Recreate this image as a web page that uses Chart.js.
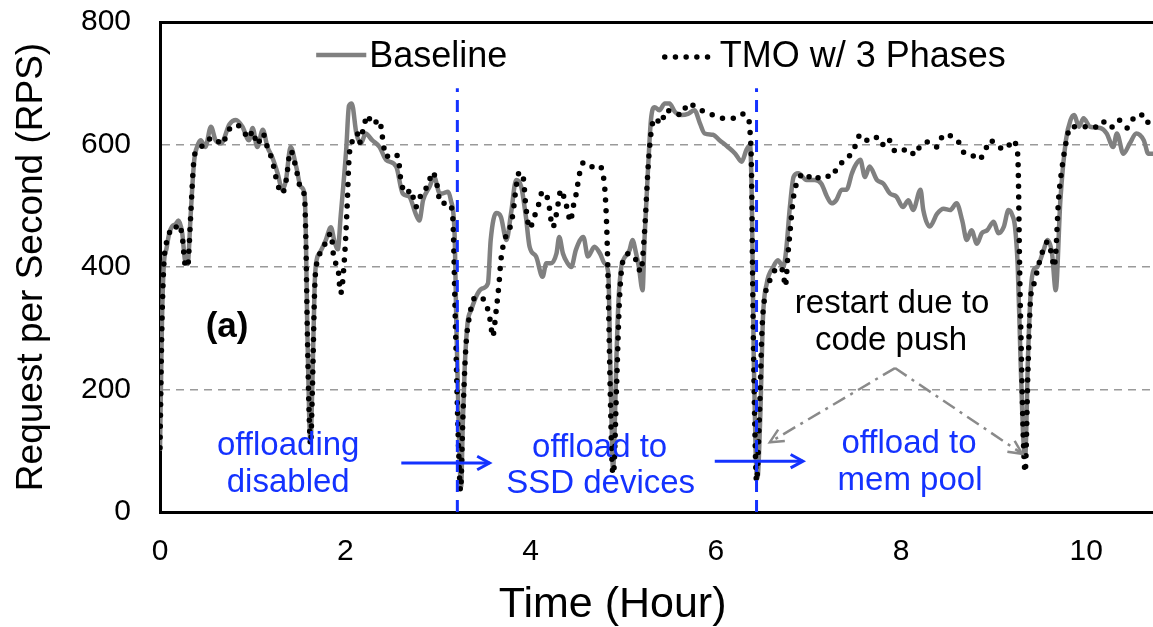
<!DOCTYPE html>
<html>
<head>
<meta charset="utf-8">
<script src="https://cdn.jsdelivr.net/npm/chart.js@4.4.1/dist/chart.umd.min.js"></script>
<style>
  html, body { margin: 0; padding: 0; background: #fff; }
  #wrap { width: 1153px; height: 627px; }
</style>
</head>
<body>
<div id="wrap"><canvas id="c" width="1153" height="627"></canvas></div>
<script>
// ---------------- DATA ----------------
const xTickLabels = [0, 2, 4, 6, 8, 10];
const yTickLabels = [0, 200, 400, 600, 800];
const seriesNames = ['Baseline', 'TMO w/ 3 Phases'];

const baselineHours = [
  0.00,0.02,0.04,0.07,0.10,0.13,0.17,0.20,0.24,0.27,0.30,0.31,0.33,0.37,0.40,0.44,0.49,0.55,0.60,0.66,
  0.75,0.82,0.89,0.96,1.00,1.05,1.11,1.16,1.21,1.27,1.32,1.36,1.41,1.47,1.52,1.56,1.575,1.59,1.61,1.625,
  1.645,1.67,1.70,1.72,1.79,1.845,1.88,1.92,1.95,2.01,2.04,2.07,2.12,2.17,2.22,2.29,2.37,2.44,2.55,2.62,
  2.69,2.76,2.80,2.84,2.91,2.96,3.02,3.05,3.11,3.14,3.18,3.20,3.23,3.25,3.27,3.29,3.32,3.36,3.43,3.48,
  3.54,3.57,3.63,3.68,3.74,3.79,3.845,3.90,3.95,3.99,4.06,4.13,4.17,4.22,4.28,4.31,4.35,4.40,4.44,4.49,
  4.57,4.62,4.69,4.75,4.80,4.84,4.86,4.88,4.89,4.93,4.95,4.98,5.00,5.07,5.10,5.14,5.17,5.21,5.23,5.27,
  5.30,5.34,5.39,5.45,5.50,5.56,5.63,5.70,5.77,5.83,5.88,5.97,6.04,6.13,6.21,6.28,6.33,6.37,6.39,6.41,
  6.43,6.45,6.48,6.51,6.55,6.62,6.67,6.73,6.76,6.80,6.84,6.89,6.98,7.07,7.14,7.20,7.25,7.30,7.36,7.41,
  7.47,7.50,7.56,7.61,7.66,7.74,7.81,7.88,7.95,8.02,8.08,8.13,8.21,8.24,8.31,8.39,8.46,8.53,8.60,8.66,
  8.71,8.76,8.82,8.87,8.93,9.00,9.05,9.11,9.16,9.20,9.23,9.26,9.29,9.32,9.34,9.37,9.40,9.43,9.47,9.54,
  9.58,9.63,9.67,9.72,9.78,9.83,9.87,9.92,9.97,10.04,10.15,10.22,10.29,10.33,10.40,10.47,10.54,10.62,10.67,10.72
];
const baselineRPS = [
  100,300,400,430,455,466,470,476,455,411,405,422,482,575,596,607,596,629,607,602,
  633,640,629,607,627,596,624,596,580,553,526,542,596,564,531,520,450,300,160,115,
  210,373,417,422,444,465,444,429,482,591,663,667,618,602,618,607,596,575,564,520,
  515,487,476,509,531,547,520,520,523,509,455,300,110,40,150,237,308,330,357,365,
  373,444,488,482,444,488,542,531,482,433,417,384,406,406,422,449,422,406,400,428,
  449,417,433,422,406,390,250,110,69,264,346,400,411,428,444,422,400,362,444,564,
  640,661,656,667,667,653,648,650,656,634,618,616,607,596,585,572,591,599,500,250,
  100,55,155,319,373,400,411,400,428,498,547,553,542,542,536,515,504,509,526,526,
  553,564,575,547,564,542,536,520,515,498,509,493,526,493,466,487,495,493,504,476,
  444,460,438,455,460,474,455,466,493,485,466,400,250,120,90,250,360,395,400,428,
  444,422,362,509,607,640,648,629,643,629,627,618,596,618,585,602,618,607,585,585
];

const tmoHours = [
  0.00,0.02,0.04,0.07,0.10,0.13,0.17,0.20,0.24,0.27,0.30,0.31,0.33,0.37,0.40,0.44,0.49,0.55,0.60,0.66,
  0.75,0.82,0.89,0.96,1.00,1.05,1.11,1.16,1.21,1.27,1.32,1.36,1.41,1.47,1.52,1.56,1.575,1.59,1.61,1.625,
  1.645,1.67,1.70,1.72,1.79,1.845,1.88,1.92,1.95,1.99,2.02,2.04,2.08,2.13,2.15,2.20,2.24,2.29,2.37,2.40,
  2.44,2.51,2.57,2.60,2.66,2.71,2.76,2.84,2.89,2.94,2.98,3.03,3.12,3.16,3.19,3.22,3.245,3.27,3.30,3.34,
  3.41,3.48,3.54,3.57,3.59,3.63,3.66,3.68,3.72,3.77,3.81,3.845,3.88,3.92,3.95,3.99,4.04,4.08,4.13,4.19,
  4.24,4.28,4.33,4.37,4.40,4.43,4.46,4.49,4.53,4.57,4.64,4.73,4.78,4.81,4.83,4.86,4.88,4.895,4.93,4.96,
  5.00,5.07,5.14,5.19,5.23,5.27,5.30,5.34,5.41,5.46,5.54,5.63,5.70,5.79,5.88,5.97,6.08,6.19,6.28,6.35,
  6.37,6.385,6.40,6.42,6.44,6.47,6.50,6.54,6.57,6.64,6.69,6.73,6.75,6.78,6.80,6.84,6.89,6.96,7.05,7.16,
  7.25,7.32,7.41,7.50,7.56,7.63,7.72,7.79,7.86,7.91,7.97,8.08,8.15,8.21,8.30,8.39,8.46,8.55,8.62,8.69,
  8.76,8.84,8.91,8.96,9.05,9.14,9.20,9.25,9.265,9.28,9.30,9.32,9.34,9.37,9.40,9.43,9.48,9.52,9.58,9.63,
  9.65,9.67,9.70,9.74,9.78,9.83,9.90,9.99,10.08,10.17,10.26,10.35,10.44,10.54,10.63,10.69,10.72
];
const tmoRPS = [
  105,300,400,440,455,466,465,470,450,405,400,420,480,580,590,596,600,610,610,600,
  625,632,625,610,622,600,618,595,575,535,520,540,590,560,528,515,440,300,160,110,
  200,365,412,420,440,455,411,400,357,411,498,575,607,618,602,629,648,633,640,613,
  580,585,580,542,520,526,498,526,531,555,542,504,504,482,300,120,35,155,264,319,
  351,349,330,308,286,330,373,411,444,460,487,531,555,547,498,463,482,498,523,509,
  465,487,526,509,493,474,498,517,553,570,563,566,553,509,427,200,80,62,210,346,
  411,422,411,392,455,564,618,643,634,656,653,648,667,661,653,648,643,643,650,643,
  621,560,350,150,50,150,300,360,373,395,400,389,368,422,455,515,542,553,542,550,
  547,566,575,596,616,607,613,599,610,593,588,593,583,599,604,596,616,613,604,585,
  583,575,591,607,596,593,607,593,560,400,250,120,65,230,351,370,400,422,441,417,
  400,422,509,564,602,629,629,629,627,638,627,640,627,648,648,629,634
];

const phaseChangeHours = [3.21, 6.44];
const phaseLineTopRPS = 692;

// ---------------- STYLE ----------------
const FONT = "'Liberation Sans', Arial, Helvetica, sans-serif";
const BLUE = '#1432ff';
const GREY_LINE = '#808080';

const toXY = (xs, ys) => xs.map((x, i) => ({ x: x, y: ys[i] }));

const datasets = [
  {
    label: seriesNames[0], data: toXY(baselineHours, baselineRPS),
    borderColor: GREY_LINE, borderWidth: 4.5, pointRadius: 0,
    cubicInterpolationMode: 'monotone', order: 3
  },
  {
    label: seriesNames[1], data: toXY(tmoHours, tmoRPS),
    borderColor: '#000', borderWidth: 5.5, borderDash: [0, 10.8], borderCapStyle: 'round',
    pointRadius: 0, cubicInterpolationMode: 'monotone', order: 2
  }
];
phaseChangeHours.forEach((h, i) => {
  datasets.push({
    label: 'phase' + (i + 1), data: [{ x: h, y: 0 }, { x: h, y: phaseLineTopRPS }],
    borderColor: BLUE, borderWidth: 3, borderDash: [12, 8], pointRadius: 0, order: 1
  });
});

// ---------------- ANNOTATIONS (positions in data units) ----------------
const notes = [
  { t: 'offloading', x: 1.384, y: 93, c: BLUE },
  { t: 'disabled', x: 1.384, y: 33, c: BLUE },
  { t: 'offload to', x: 4.746, y: 90, c: BLUE },
  { t: 'SSD devices', x: 4.757, y: 31, c: BLUE },
  { t: 'offload to', x: 8.086, y: 96, c: BLUE },
  { t: 'mem pool', x: 8.097, y: 36, c: BLUE },
  { t: 'restart due to', x: 7.903, y: 325, c: '#000' },
  { t: 'code push', x: 7.892, y: 264, c: '#000' }
];

function arrowHead(ctx, x1, y1, x2, y2, len, spread) {
  const a = Math.atan2(y2 - y1, x2 - x1);
  ctx.beginPath();
  ctx.moveTo(x2 - len * Math.cos(a - spread), y2 - len * Math.sin(a - spread));
  ctx.lineTo(x2, y2);
  ctx.lineTo(x2 - len * Math.cos(a + spread), y2 - len * Math.sin(a + spread));
  ctx.stroke();
}

const annotPlugin = {
  id: 'annot',
  afterDatasetsDraw(chart) {
    const ctx = chart.ctx;
    const xs = chart.scales.x, ys = chart.scales.y;
    const X = v => xs.getPixelForValue(v), Y = v => ys.getPixelForValue(v);
    ctx.save();

    // blue arrows
    ctx.strokeStyle = BLUE; ctx.lineWidth = 3; ctx.setLineDash([]); ctx.lineCap = 'butt';
    [[2.605, 3.557, 80], [5.989, 6.941, 83]].forEach(a => {
      ctx.beginPath(); ctx.moveTo(X(a[0]), Y(a[2])); ctx.lineTo(X(a[1]), Y(a[2])); ctx.stroke();
      arrowHead(ctx, X(a[0]), Y(a[2]), X(a[1]), Y(a[2]), 14, 0.5);
    });

    // grey dash-dot arrows
    ctx.strokeStyle = '#8a8a8a'; ctx.lineWidth = 2.5;
    const apex = [7.935, 235];
    [[6.584, 114], [9.308, 95]].forEach(e => {
      ctx.setLineDash([14, 6, 3, 6]);
      ctx.beginPath(); ctx.moveTo(X(apex[0]), Y(apex[1])); ctx.lineTo(X(e[0]), Y(e[1])); ctx.stroke();
      ctx.setLineDash([]);
      arrowHead(ctx, X(apex[0]), Y(apex[1]), X(e[0]), Y(e[1]), 15, 0.45);
    });

    // texts
    ctx.setLineDash([]);
    ctx.textAlign = 'center'; ctx.textBaseline = 'alphabetic';
    ctx.font = '33px ' + FONT;
    notes.forEach(n => { ctx.fillStyle = n.c; ctx.fillText(n.t, X(n.x), Y(n.y)); });

    ctx.fillStyle = '#000';
    ctx.font = 'bold 35px ' + FONT;
    ctx.fillText('(a)', X(0.724), Y(286));

    // legend
    ctx.font = '36px ' + FONT; ctx.textAlign = 'left';
    ctx.strokeStyle = GREY_LINE; ctx.lineWidth = 4.5; ctx.lineCap = 'butt';
    ctx.beginPath(); ctx.moveTo(X(1.686), Y(746)); ctx.lineTo(X(2.227), Y(746)); ctx.stroke();
    ctx.fillText(seriesNames[0], X(2.259), Y(727));
    ctx.strokeStyle = '#000'; ctx.lineWidth = 5.5; ctx.lineCap = 'round'; ctx.setLineDash([0, 10.7]);
    ctx.beginPath(); ctx.moveTo(X(5.449), Y(743)); ctx.lineTo(X(5.914), Y(743)); ctx.stroke();
    ctx.setLineDash([]);
    ctx.fillText(seriesNames[1], X(6.043), Y(727));

    // x-axis title
    ctx.textAlign = 'center';
    ctx.font = '43px ' + FONT;
    ctx.fillText('Time (Hour)', X(4.886), chart.chartArea.bottom + 105);
    ctx.restore();
  }
};

Chart.defaults.font.family = FONT;
Chart.defaults.color = '#000';

new Chart(document.getElementById('c').getContext('2d'), {
  type: 'line',
  data: { datasets: datasets },
  options: {
    responsive: false,
    animation: false,
    layout: { padding: 0 },
    plugins: { legend: { display: false }, tooltip: { enabled: false } },
    scales: {
      x: {
        type: 'linear', min: 0, max: 10.72,
        afterFit(s) { s.height = 115; s.paddingLeft = 0; s.paddingRight = 0; },
        afterBuildTicks(s) { s.ticks = xTickLabels.map(v => ({ value: v })); },
        ticks: { stepSize: 2, includeBounds: false, font: { size: 30 }, color: '#000', padding: 22 },
        grid: { display: false, drawTicks: false },
        border: { display: true, color: '#000', width: 3 }
      },
      xTop: {
        type: 'linear', position: 'top', min: 0, max: 10.72,
        afterFit(s) { s.height = 22; s.paddingLeft = 0; s.paddingRight = 0; },
        ticks: { display: false },
        grid: { display: false, drawTicks: false },
        border: { display: true, color: '#000', width: 3 }
      },
      y: {
        min: 0, max: 800,
        afterFit(s) { s.width = 160; s.paddingTop = 0; s.paddingBottom = 0; },
        afterBuildTicks(s) { s.ticks = yTickLabels.map(v => ({ value: v })); },
        ticks: { stepSize: 200, font: { size: 30 }, color: '#000', padding: 29 },
        grid: {
          drawTicks: false, lineWidth: 1.5,
          color: c => (c.tick && (c.tick.value === 0 || c.tick.value === 800)) ? 'rgba(0,0,0,0)' : '#9a9a9a'
        },
        border: { display: true, color: '#000', width: 3, dash: [8, 6] },
        title: { display: true, text: 'Request per Second (RPS)', font: { size: 37 }, color: '#000', padding: { top: 10, bottom: 0 } }
      }
    }
  },
  plugins: [annotPlugin]
});
</script>
</body>
</html>
